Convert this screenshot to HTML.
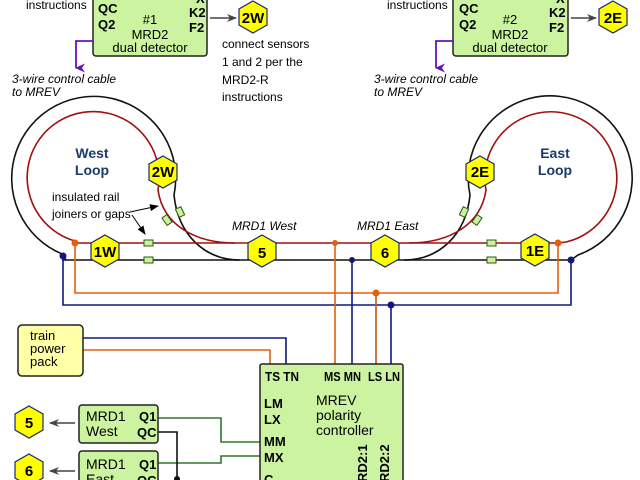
<!DOCTYPE html>
<html><head><meta charset="utf-8"><style>
html,body{margin:0;padding:0;background:#fff}
svg{display:block}
text{font-family:"Liberation Sans",sans-serif}
.b{font-weight:bold;font-size:13px}
.n{font-size:13px}
.i{font-style:italic;font-size:12px}
.hx{fill:#ffff00;stroke:#1a2a6a;stroke-width:1.2}
.ht{font-weight:bold;font-size:15px;text-anchor:middle}
.j{fill:#ccf0a0;stroke:#2a5a10;stroke-width:1}
</style></head><body>
<svg width="640" height="480" viewBox="0 0 640 480" xmlns="http://www.w3.org/2000/svg">
<defs>
<marker id="ar" markerWidth="10" markerHeight="8" refX="9" refY="4" orient="auto" markerUnits="userSpaceOnUse"><path d="M0,0 L10,4 L0,8 L3,4z" fill="#444"/></marker>
<marker id="ak" markerWidth="9" markerHeight="7" refX="8" refY="3.5" orient="auto" markerUnits="userSpaceOnUse"><path d="M0,0 L9,3.5 L0,7z" fill="#000"/></marker>
<marker id="ap" markerWidth="9" markerHeight="10" refX="4.5" refY="9" orient="auto" markerUnits="userSpaceOnUse"><path d="M0,0 L4.5,10 L9,0 L4.5,3z" fill="#6a10c0"/></marker>
</defs>

<!-- tracks -->
<g fill="none" stroke-width="1.6">
<path d="M240,260 C205,260 178,235 174,195 A82 82 0 1 0 62,254 L66,260" stroke="#111"/>
<path d="M235,243 C195,243 163,225 158,190 A66 66 0 1 0 75,241 L78,243" stroke="#a01010"/>
<path d="M404,260 C439,260 466,235 470,195 A82 82 0 1 1 578,255 L571,260" stroke="#111"/>
<path d="M409,243 C449,243 481,225 486,190 A66 66 0 1 1 566,242 L558,243" stroke="#a01010"/>
<line x1="62" y1="260" x2="572" y2="260" stroke="#111"/>
<line x1="76" y1="243" x2="558" y2="243" stroke="#a01010"/>
</g>

<!-- wires -->
<g fill="none" stroke-width="1.6">
<path d="M75,243 V293 H558 V243" stroke="#e06010"/>
<path d="M63,256 V305 H571 V260" stroke="#101880"/>
<path d="M335,243 V365" stroke="#e06010"/>
<path d="M352,260 V365" stroke="#101880"/>
<path d="M376,293 V365" stroke="#c05a20"/>
<path d="M391,305 V365" stroke="#101880"/>
<path d="M83,338 H286 V365" stroke="#101880"/>
<path d="M83,350 H270 V365" stroke="#e06010"/>
<path d="M158,418 H221 V442 H260" stroke="#2a7a2a"/>
<path d="M158,463 H221 V456 H260" stroke="#2a7a2a"/>
<path d="M158,432 H177 V480" stroke="#111"/>
</g>
<g>
<circle cx="75" cy="243" r="3.5" fill="#e06010"/>
<circle cx="558" cy="243" r="3.5" fill="#e06010"/>
<circle cx="335" cy="243" r="3" fill="#e06010"/>
<circle cx="376" cy="293" r="3.5" fill="#e06010"/>
<circle cx="63" cy="256" r="3.5" fill="#101880"/>
<circle cx="571" cy="260" r="3.5" fill="#101880"/>
<circle cx="352" cy="260" r="3" fill="#101880"/>
<circle cx="391" cy="305" r="3.5" fill="#101880"/>
<circle cx="177" cy="479" r="3" fill="#111"/>
</g>

<!-- joiners -->
<rect class="j" x="144" y="240" width="9" height="6"/>
<rect class="j" x="144" y="257" width="9" height="6"/>
<rect class="j" x="487" y="240" width="9" height="6"/>
<rect class="j" x="487" y="257" width="9" height="6"/>
<rect class="j" x="-4.5" y="-3" width="9" height="6" transform="translate(167,220) rotate(55)"/>
<rect class="j" x="-4.5" y="-3" width="9" height="6" transform="translate(180,212) rotate(65)"/>
<rect class="j" x="-4.5" y="-3" width="9" height="6" transform="translate(464,212) rotate(-65)"/>
<rect class="j" x="-4.5" y="-3" width="9" height="6" transform="translate(477,220) rotate(-55)"/>

<!-- hexes -->
<g>
<polygon class="hx" points="105,235 119,243 119,259 105,267 91,259 91,243"/><text class="ht" x="105" y="257">1W</text>
<polygon class="hx" points="262,235 276,243 276,259 262,267 248,259 248,243"/><text class="ht" x="262" y="258">5</text>
<polygon class="hx" points="385,235 399,243 399,259 385,267 371,259 371,243"/><text class="ht" x="385" y="258">6</text>
<polygon class="hx" points="535,234 549,242 549,258 535,266 521,258 521,242"/><text class="ht" x="535" y="256">1E</text>
<polygon class="hx" points="163,156 177,164 177,180 163,188 149,180 149,164"/><text class="ht" x="163" y="177">2W</text>
<polygon class="hx" points="480,156 494,164 494,180 480,188 466,180 466,164"/><text class="ht" x="480" y="177">2E</text>
<polygon class="hx" points="253,1 267,9 267,25 253,33 239,25 239,9"/><text class="ht" x="253" y="23">2W</text>
<polygon class="hx" points="613,1 627,9 627,25 613,33 599,25 599,9"/><text class="ht" x="613" y="23">2E</text>
<polygon class="hx" points="29,406 43,414 43,430 29,438 15,430 15,414"/><text class="ht" x="29" y="428">5</text>
<polygon class="hx" points="29,454 43,462 43,478 29,486 15,478 15,462"/><text class="ht" x="29" y="476">6</text>
</g>

<!-- loop labels -->
<text x="92" y="158" text-anchor="middle" style="font-weight:bold;font-size:14px;fill:#1a3a6a">West</text>
<text x="92" y="175" text-anchor="middle" style="font-weight:bold;font-size:14px;fill:#1a3a6a">Loop</text>
<text x="555" y="158" text-anchor="middle" style="font-weight:bold;font-size:14px;fill:#1a3a6a">East</text>
<text x="555" y="175" text-anchor="middle" style="font-weight:bold;font-size:14px;fill:#1a3a6a">Loop</text>
<text class="n" x="52" y="201" style="font-size:12px">insulated rail</text>
<text class="n" x="52" y="218" style="font-size:12px">joiners or gaps</text>
<path d="M130,212 L158,206" stroke="#000" fill="none" marker-end="url(#ak)"/>
<path d="M132,215 L145,234" stroke="#000" fill="none" marker-end="url(#ak)"/>
<text class="i" x="232" y="230">MRD1 West</text>
<text class="i" x="357" y="230">MRD1 East</text>

<!-- MRD2 boxes -->
<rect x="93" y="-6" width="114" height="62" rx="3" fill="#ccf4a0" stroke="#222" stroke-width="1.5"/>
<text class="b" x="98" y="13">QC</text><text class="b" x="98" y="29">Q2</text>
<text class="b" x="196" y="3">X</text><text class="b" x="189" y="17">K2</text><text class="b" x="189" y="32">F2</text>
<text class="n" x="150" y="24" text-anchor="middle">#1</text>
<text class="n" x="150" y="39" text-anchor="middle">MRD2</text>
<text class="n" x="150" y="52" text-anchor="middle">dual detector</text>
<path d="M210,18 H236" stroke="#444" stroke-width="1.5" marker-end="url(#ar)"/>
<path d="M93,41 H76 V68" stroke="#6a10c0" stroke-width="1.8" fill="none" marker-end="url(#ap)"/>
<text class="n" x="26" y="9" style="font-size:12px">instructions</text>
<text class="n" x="222" y="48" style="font-size:12px">connect sensors</text>
<text class="n" x="222" y="66" style="font-size:12px">1 and 2 per the</text>
<text class="n" x="222" y="84" style="font-size:12px">MRD2-R</text>
<text class="n" x="222" y="101" style="font-size:12px">instructions</text>
<text class="i" x="12" y="83">3-wire control cable</text>
<text class="i" x="12" y="96">to MREV</text>

<rect x="453" y="-6" width="115" height="62" rx="3" fill="#ccf4a0" stroke="#222" stroke-width="1.5"/>
<text class="b" x="459" y="13">QC</text><text class="b" x="459" y="29">Q2</text>
<text class="b" x="556" y="3">X</text><text class="b" x="549" y="17">K2</text><text class="b" x="549" y="32">F2</text>
<text class="n" x="510" y="24" text-anchor="middle">#2</text>
<text class="n" x="510" y="39" text-anchor="middle">MRD2</text>
<text class="n" x="510" y="52" text-anchor="middle">dual detector</text>
<path d="M571,18 H596" stroke="#444" stroke-width="1.5" marker-end="url(#ar)"/>
<path d="M453,41 H436 V68" stroke="#6a10c0" stroke-width="1.8" fill="none" marker-end="url(#ap)"/>
<text class="n" x="387" y="9" style="font-size:12px">instructions</text>
<text class="i" x="374" y="83">3-wire control cable</text>
<text class="i" x="374" y="96">to MREV</text>

<!-- power pack -->
<rect x="18" y="325" width="65" height="51" rx="4" fill="#ffffa8" stroke="#222" stroke-width="1.5"/>
<text class="n" x="30" y="340">train</text>
<text class="n" x="30" y="353">power</text>
<text class="n" x="30" y="366">pack</text>

<!-- MREV -->
<rect x="260" y="364" width="143" height="130" rx="2" fill="#ccf4a0" stroke="#222" stroke-width="1.5"/>
<text class="b" x="265" y="381" textLength="34" lengthAdjust="spacingAndGlyphs">TS TN</text>
<text class="b" x="324" y="381" textLength="37" lengthAdjust="spacingAndGlyphs">MS MN</text>
<text class="b" x="368" y="381" textLength="32" lengthAdjust="spacingAndGlyphs">LS LN</text>
<text class="b" x="264" y="408">LM</text>
<text class="b" x="264" y="424">LX</text>
<text class="b" x="264" y="446">MM</text>
<text class="b" x="264" y="462">MX</text>
<text class="b" x="264" y="484">C</text>
<text class="n" x="316" y="405" style="font-size:14px">MREV</text>
<text class="n" x="316" y="420" style="font-size:14px">polarity</text>
<text class="n" x="316" y="435" style="font-size:14px">controller</text>
<text class="b" transform="translate(367,482) rotate(-90)">RD2:1</text>
<text class="b" transform="translate(389,482) rotate(-90)">RD2:2</text>

<!-- MRD1 boxes -->
<rect x="79" y="405" width="79" height="38" rx="3" fill="#ccf4a0" stroke="#222" stroke-width="1.5"/>
<text class="n" x="86" y="421" style="font-size:14px">MRD1</text>
<text class="n" x="86" y="436" style="font-size:14px">West</text>
<text class="b" x="139" y="421">Q1</text><text class="b" x="137" y="437">QC</text>
<rect x="79" y="451" width="79" height="40" rx="3" fill="#ccf4a0" stroke="#222" stroke-width="1.5"/>
<text class="n" x="86" y="469" style="font-size:14px">MRD1</text>
<text class="n" x="86" y="484" style="font-size:14px">East</text>
<text class="b" x="139" y="469">Q1</text><text class="b" x="137" y="485">QC</text>
<path d="M75,423 H50" stroke="#444" stroke-width="1.5" marker-end="url(#ar)"/>
<path d="M75,471 H50" stroke="#444" stroke-width="1.5" marker-end="url(#ar)"/>
</svg>
</body></html>
